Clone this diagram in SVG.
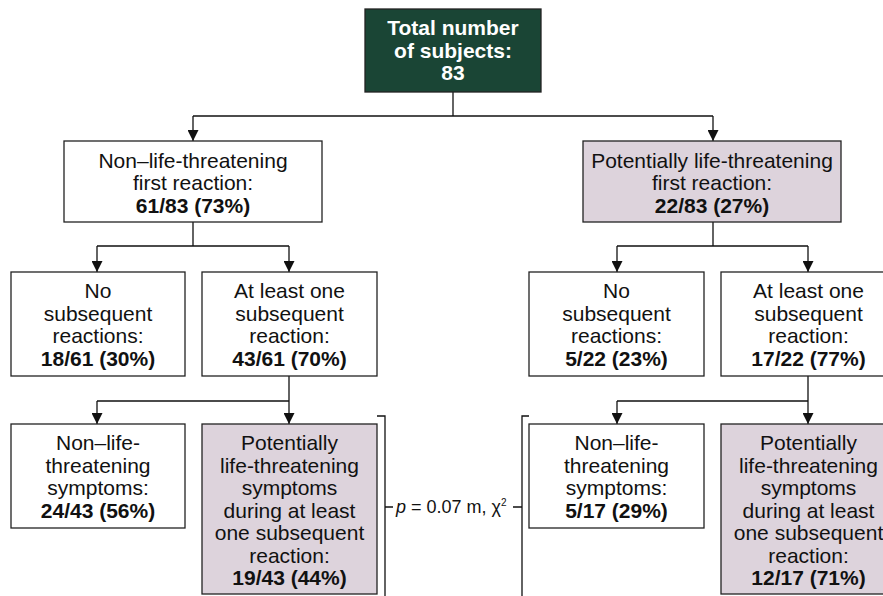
<svg xmlns="http://www.w3.org/2000/svg" width="883" height="596" viewBox="0 0 883 596">
<defs>
<marker id="arr" markerUnits="userSpaceOnUse" markerWidth="11" markerHeight="11" refX="11" refY="5.5" orient="auto">
<path d="M0,0 L11,5.5 L0,11 z" fill="#111"/>
</marker>
<style>
.box{fill:#ffffff;stroke:#222;stroke-width:1.3}
.pur{fill:#ddd3dc;stroke:#222;stroke-width:1.3}
.grn{fill:#1a4535;stroke:#222;stroke-width:1.3}
.t{font-family:"Liberation Sans",Arial,Helvetica,sans-serif;font-size:21px;fill:#111;text-anchor:middle}
.b{font-weight:bold}
.w{fill:#ffffff;font-weight:bold}
.ln{fill:none;stroke:#111;stroke-width:1.3}
.p{font-family:"Liberation Sans",Arial,Helvetica,sans-serif;font-size:18px;fill:#111}
</style>
</defs>
<rect width="883" height="596" fill="#ffffff"/>
<g id="connectors">
<path class="ln" d="M453,92 V116"/>
<path class="ln" d="M193,116 H713"/>
<path class="ln" d="M193,116 V141" marker-end="url(#arr)"/>
<path class="ln" d="M713,116 V141" marker-end="url(#arr)"/>
<path class="ln" d="M193,222 V246 M97,246 H289"/>
<path class="ln" d="M97,246 V272" marker-end="url(#arr)"/>
<path class="ln" d="M289,246 V272" marker-end="url(#arr)"/>
<path class="ln" d="M713,222 V246 M617,246 H808"/>
<path class="ln" d="M617,246 V272" marker-end="url(#arr)"/>
<path class="ln" d="M808,246 V272" marker-end="url(#arr)"/>
<path class="ln" d="M289,376 V401 M97,401 H289"/>
<path class="ln" d="M97,401 V424" marker-end="url(#arr)"/>
<path class="ln" d="M289,401 V424" marker-end="url(#arr)"/>
<path class="ln" d="M808,376 V401 M617,401 H808"/>
<path class="ln" d="M617,401 V424" marker-end="url(#arr)"/>
<path class="ln" d="M808,401 V424" marker-end="url(#arr)"/>
</g>
<g id="comparison">
<path class="ln" d="M377,416 H385 V596 M385,507 H393"/>
<path class="ln" d="M529,416 H522 V596 M513,507 H522"/>
<text class="p" x="396" y="513"><tspan font-style="italic">p</tspan> = 0.07 m, χ<tspan font-size="10" dy="-7">2</tspan></text>
</g>
<g id="total">
<rect class="grn" x="365" y="9" width="176" height="83"/>
<text class="t w" x="453" y="35">Total number</text>
<text class="t w" x="453" y="57.5">of subjects:</text>
<text class="t w" x="453" y="80">83</text>
</g>
<g id="nonlife-first">
<rect class="box" x="64" y="141" width="258" height="81"/>
<text class="t" x="193" y="167.5">Non–life-threatening</text>
<text class="t" x="193" y="190">first reaction:</text>
<text class="t b" x="193" y="212.5">61/83 (73%)</text>
</g>
<g id="life-first">
<rect class="pur" x="583" y="141" width="258" height="81"/>
<text class="t" x="712" y="167.5">Potentially life-threatening</text>
<text class="t" x="712" y="190">first reaction:</text>
<text class="t b" x="712" y="212.5">22/83 (27%)</text>
</g>
<g id="nl-no-subsequent">
<rect class="box" x="11" y="272" width="174" height="104"/>
<text class="t" x="98" y="298">No</text>
<text class="t" x="98" y="320.5">subsequent</text>
<text class="t" x="98" y="343">reactions:</text>
<text class="t b" x="98" y="365.5">18/61 (30%)</text>
</g>
<g id="nl-subsequent">
<rect class="box" x="202" y="272" width="175" height="104"/>
<text class="t" x="289.5" y="298">At least one</text>
<text class="t" x="289.5" y="320.5">subsequent</text>
<text class="t" x="289.5" y="343">reaction:</text>
<text class="t b" x="289.5" y="365.5">43/61 (70%)</text>
</g>
<g id="pl-no-subsequent">
<rect class="box" x="529" y="272" width="175" height="104"/>
<text class="t" x="616.5" y="298">No</text>
<text class="t" x="616.5" y="320.5">subsequent</text>
<text class="t" x="616.5" y="343">reactions:</text>
<text class="t b" x="616.5" y="365.5">5/22 (23%)</text>
</g>
<g id="pl-subsequent">
<rect class="box" x="721" y="272" width="175" height="104"/>
<text class="t" x="808.5" y="298">At least one</text>
<text class="t" x="808.5" y="320.5">subsequent</text>
<text class="t" x="808.5" y="343">reaction:</text>
<text class="t b" x="808.5" y="365.5">17/22 (77%)</text>
</g>
<g id="nl-nonlife-symptoms">
<rect class="box" x="11" y="424" width="174" height="104"/>
<text class="t" x="98" y="450">Non–life-</text>
<text class="t" x="98" y="472.5">threatening</text>
<text class="t" x="98" y="495">symptoms:</text>
<text class="t b" x="98" y="517.5">24/43 (56%)</text>
</g>
<g id="nl-life-symptoms">
<rect class="pur" x="202" y="424" width="175" height="170"/>
<text class="t" x="289.5" y="450">Potentially</text>
<text class="t" x="289.5" y="472.5">life-threatening</text>
<text class="t" x="289.5" y="495">symptoms</text>
<text class="t" x="289.5" y="517.5">during at least</text>
<text class="t" x="289.5" y="540">one subsequent</text>
<text class="t" x="289.5" y="562.5">reaction:</text>
<text class="t b" x="289.5" y="585">19/43 (44%)</text>
</g>
<g id="pl-nonlife-symptoms">
<rect class="box" x="529" y="424" width="175" height="104"/>
<text class="t" x="616.5" y="450">Non–life-</text>
<text class="t" x="616.5" y="472.5">threatening</text>
<text class="t" x="616.5" y="495">symptoms:</text>
<text class="t b" x="616.5" y="517.5">5/17 (29%)</text>
</g>
<g id="pl-life-symptoms">
<rect class="pur" x="721" y="424" width="175" height="170"/>
<text class="t" x="808.5" y="450">Potentially</text>
<text class="t" x="808.5" y="472.5">life-threatening</text>
<text class="t" x="808.5" y="495">symptoms</text>
<text class="t" x="808.5" y="517.5">during at least</text>
<text class="t" x="808.5" y="540">one subsequent</text>
<text class="t" x="808.5" y="562.5">reaction:</text>
<text class="t b" x="808.5" y="585">12/17 (71%)</text>
</g>
</svg>
